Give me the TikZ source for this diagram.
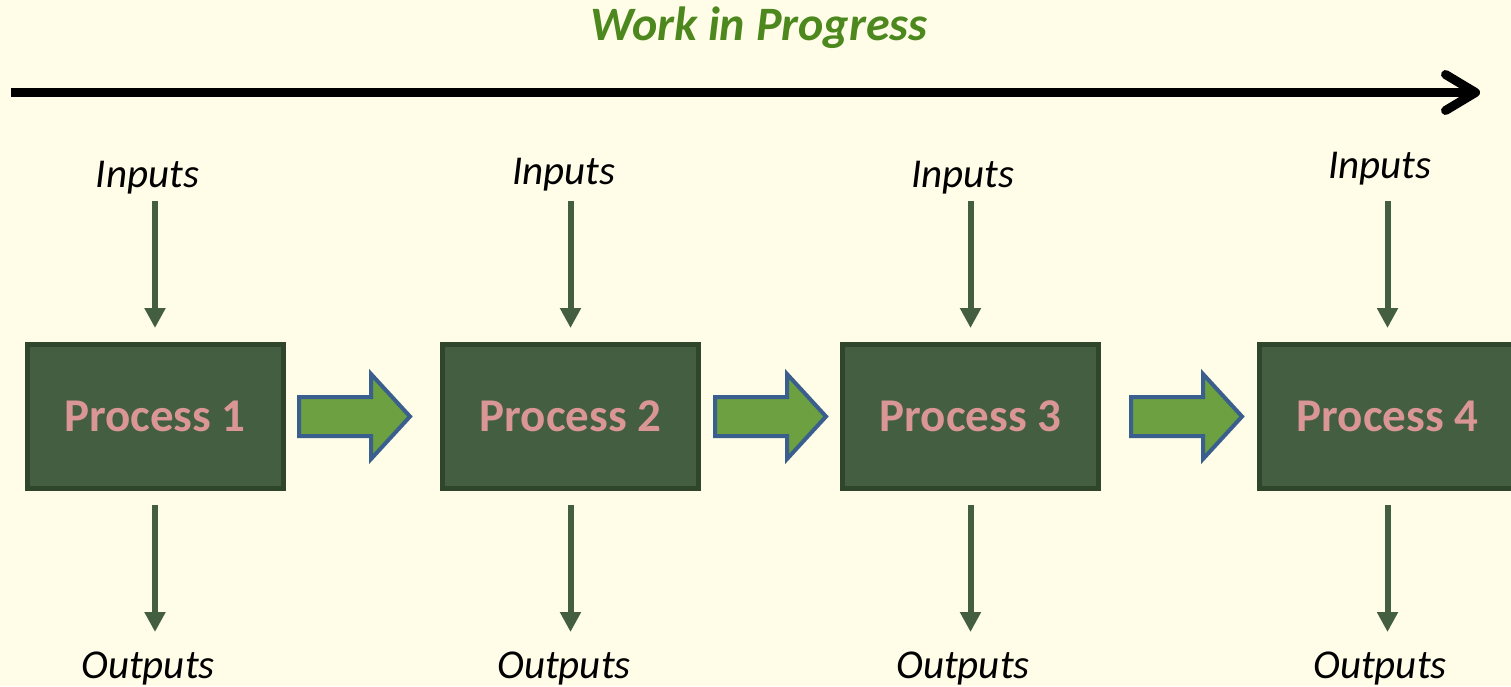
\documentclass[tikz,border=0pt]{standalone}
\usepackage{fontspec}
\setmainfont{Carlito}
\usetikzlibrary{arrows.meta}
\definecolor{paper}{RGB}{255,253,232}
\definecolor{boxfill}{RGB}{67,94,64}
\definecolor{boxedge}{RGB}{48,70,44}
\definecolor{pinktext}{RGB}{217,150,148}
\definecolor{titlegreen}{RGB}{76,136,30}
\definecolor{flowfill}{RGB}{108,160,64}
\definecolor{flowedge}{RGB}{58,95,143}
\tikzset{
  process/.style={draw=boxedge,line width=5pt,fill=boxfill,minimum width=256pt,
    minimum height=144pt,inner sep=0pt,text=pinktext,
    font=\fontsize{47}{50}\selectfont\bfseries},
  label/.style={anchor=base,inner sep=0pt,font=\fontsize{41}{44}\selectfont\itshape},
  feed/.style={boxfill,line width=6pt,-{Triangle[length=20pt,width=20pt]}},
  flow/.style={draw=flowedge,line width=4pt,fill=flowfill,line join=miter},
}
\begin{document}
\begin{tikzpicture}[x=1pt,y=-1pt]
\fill[paper] (0,0) rectangle (1511,686);
\useasboundingbox (0,0) rectangle (1511,686);
\clip (0,0) rectangle (1511,686);
% title and time line
\node[font=\fontsize{48}{52}\selectfont\bfseries\itshape,text=titlegreen,anchor=base] (wip) at (759,40) {Work in Progress};
\draw[line width=9pt,-{Straight Barb[length=30pt,width=36pt,line cap=round,line join=round]}] (11,92.5) -- (1480,92.5);
% process boxes
\node[process] (p1) at (155,416.5) {Process 1};
\node[process] (p2) at (570.5,416.5) {Process 2};
\node[process] (p3) at (970.5,416.5) {Process 3};
\node[process] (p4) at (1387.5,416.5) {Process 4};
% inputs and outputs
\node[label] (in1) at (147.5,187) {Inputs};
\node[label] (in2) at (564,184) {Inputs};
\node[label] (in3) at (963,187) {Inputs};
\node[label] (in4) at (1380,178) {Inputs};
\node[label] (out1) at (148,678) {Outputs};
\node[label] (out2) at (564,678) {Outputs};
\node[label] (out3) at (963,678) {Outputs};
\node[label] (out4) at (1380,678) {Outputs};
\foreach \i in {1,...,4}{
  \coordinate (src\i) at ([yshift=141pt]p\i.north);
  \coordinate (dst\i) at ([yshift=-141pt]p\i.south);
  \draw[feed] (src\i) -- ([yshift=14pt]p\i.north);
  \draw[feed] ([yshift=-14pt]p\i.south) -- (dst\i);
}
% block arrows between the boxes
\foreach \x in {299,715,1131}
  \draw[flow] (\x,397) -- (\x+72,397) -- (\x+72,374) -- (\x+111,416.5)
    -- (\x+72,459) -- (\x+72,436) -- (\x,436) -- cycle;
\end{tikzpicture}
\end{document}
